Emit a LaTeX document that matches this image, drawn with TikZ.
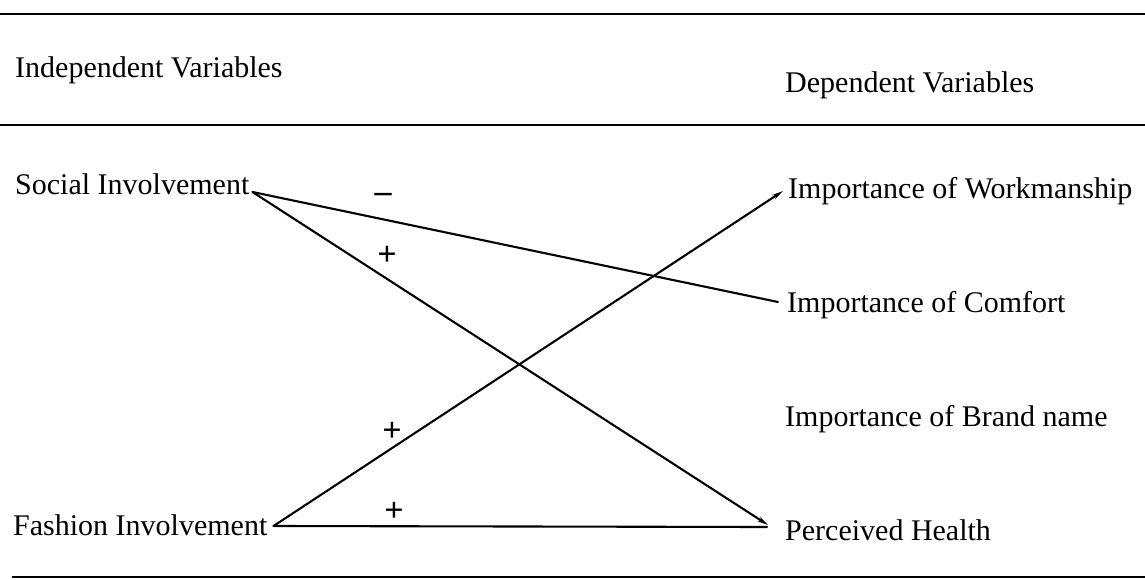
\documentclass[tikz,border=0pt]{standalone}
\usepackage{fontspec}
\setmainfont{Liberation Serif}
\usetikzlibrary{arrows.meta}

\begin{document}
\begin{tikzpicture}[
  x=1pt, y=-1pt,
  var/.style={anchor=base west, inner sep=0pt,
              font=\fontsize{30}{36}\selectfont},
  sgn/.style={inner sep=0pt, font=\fontsize{34}{40}\selectfont\bfseries},
  lnk/.style={line width=2.1pt, line cap=round},
  arr/.style={lnk, -{Stealth[length=11pt, width=5pt]}},
  rulel/.style={line width=2.6pt}
]
  \useasboundingbox (0,0) rectangle (1145,580);

  % rules of the table
  \coordinate (r1a) at (0,14);   \coordinate (r1b) at (1145,14);
  \coordinate (r2a) at (0,125);  \coordinate (r2b) at (1145,125);
  \coordinate (r3a) at (12,577); \coordinate (r3b) at (1145,577);
  \draw[rulel] (r1a) -- (r1b);
  \draw[rulel] (r2a) -- (r2b);
  \draw[rulel] (r3a) -- (r3b);

  % headings
  \node[var] (indep) at (15,78) {Independent Variables};
  \node[var] (dep) at (785,93) {Dependent Variables};

  % independent side
  \node[var] (soc) at (15,194) {Social Involvement};
  \node[var] (fash) at (13,535) {Fashion Involvement};

  % dependent side
  \node[var] (work) at (788,198) {Importance of Workmanship};
  \node[var] (comf) at (787,312) {Importance of Comfort};
  \node[var] (brand) at (785,426) {Importance of Brand name};
  \node[var] (health) at (785,540) {Perceived Health};

  % paths
  \draw[lnk] ([shift={(3,-2)}]soc.base east) -- ([shift={(-9,-10)}]comf.base west);
  \draw[arr] ([shift={(3,-2)}]soc.base east) -- ([shift={(-17,-15)}]health.base west);
  \draw[arr] ([shift={(6,-9)}]fash.base east) -- ([shift={(-5,-7)}]work.base west);
  \draw[lnk] ([shift={(6,-9)}]fash.base east) -- ([shift={(-18,-13)}]health.base west);

  % signs
  \node[sgn] (s1) at (383,198) {–};
  \node[sgn] (s2) at (387,256) {+};
  \node[sgn] (s3) at (392,432) {+};
  \node[sgn] (s4) at (394,512) {+};
\end{tikzpicture}
\end{document}
